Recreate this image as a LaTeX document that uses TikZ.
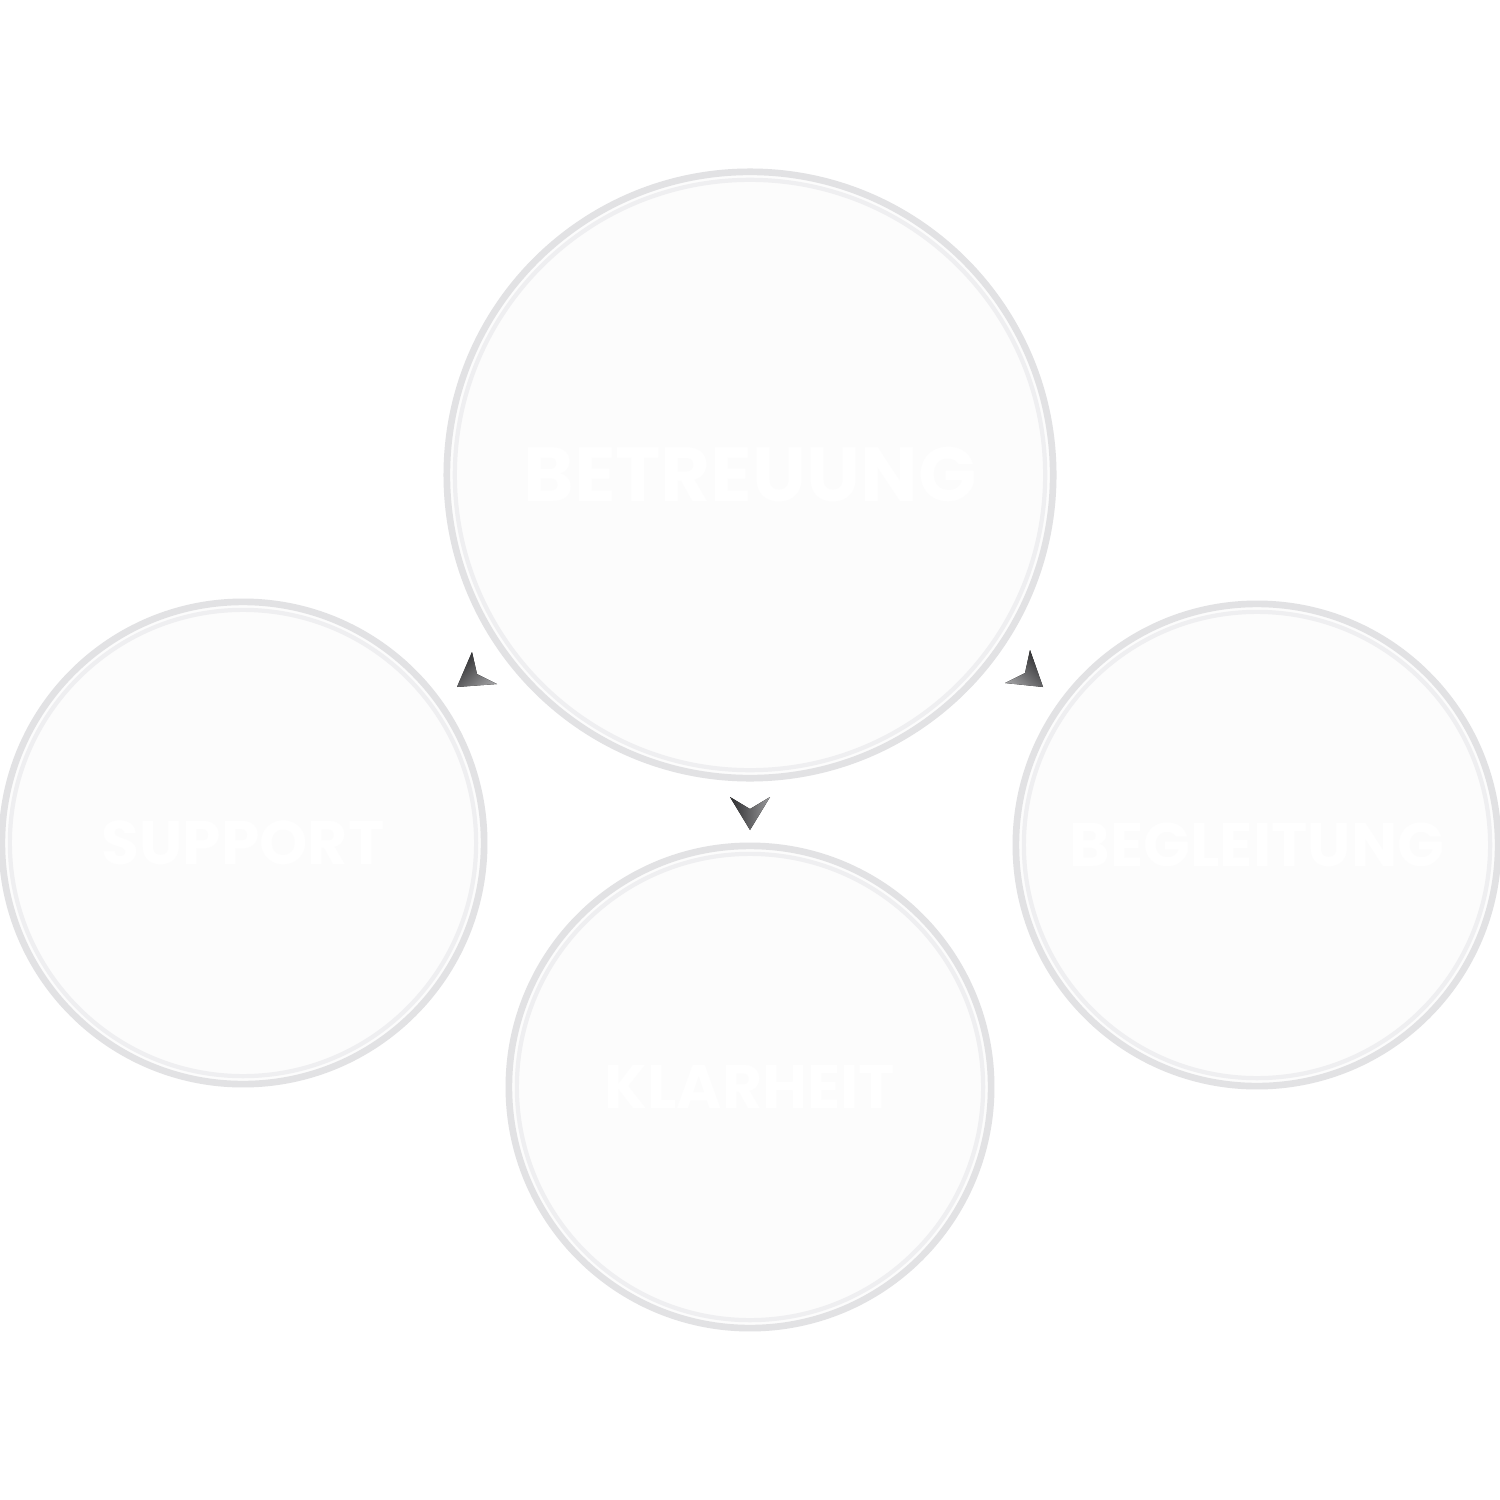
\documentclass[tikz,border=0pt]{standalone}
\usepackage{fontspec}
\newfontfamily\labelfont{Poppins}
\begin{document}
\begin{tikzpicture}[x=0.01cm,y=-0.01cm,
  bubble/.style={circle,fill=bubblefill,draw=ringgray,line width=1.9pt,inner sep=0pt,
    font=\labelfont\bfseries\fontsize{17.5}{21}\selectfont,text=white},
  bigbubble/.style={bubble,minimum size=6.06cm,font=\labelfont\bfseries\fontsize{21.8}{26}\selectfont},
  smallbubble/.style={bubble,minimum size=4.82cm},
  innerline/.style={draw=innerring,line width=1.2pt},
  tipshade/.style={left color=tipdark,right color=tiplight,draw=none}]
\definecolor{bubblefill}{HTML}{FCFCFC}
\definecolor{ringgray}{HTML}{E2E2E4}
\definecolor{innerring}{HTML}{EFEFF1}
\definecolor{tipdark}{HTML}{2E2E30}
\definecolor{tiplight}{HTML}{9A9A9C}
\useasboundingbox (0,0) rectangle (1500,1500);
\fill[white] (0,0) rectangle (1500,1500);
\node[bigbubble] (betreuung) at (750,475) {BETREUUNG};
\node[smallbubble] (support) at (243,843) {SUPPORT};
\node[smallbubble] (begleitung) at (1257,845) {BEGLEITUNG};
\node[smallbubble] (klarheit) at (750,1087) {KLARHEIT};
\draw[innerline] (betreuung.center) circle [radius=2.95cm];
\foreach \n in {support,begleitung,klarheit}{
  \draw[innerline] (\n.center) circle [radius=2.33cm];
}
% arrowheads
\fill[tipshade,shading angle=45] (457,687) -- (472,652) -- (477,674) -- (497,684) -- cycle;
\fill[tipshade,shading angle=-45] (1043,687) -- (1030,650) -- (1025,673) -- (1005,683) -- cycle;
\fill[tipshade] (750,830) -- (730,797) -- (750,809) -- (770,797) -- cycle;
\end{tikzpicture}
\end{document}
